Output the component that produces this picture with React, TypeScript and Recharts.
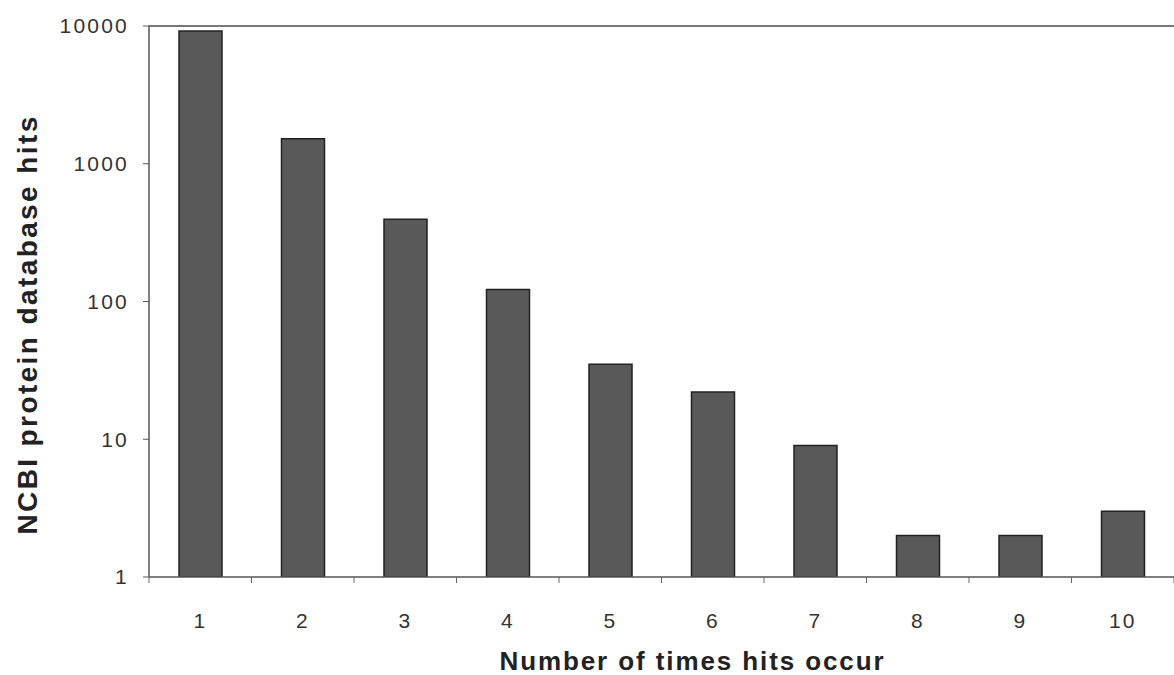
import { BarChart, Bar, XAxis, YAxis, ReferenceLine, Label } from 'recharts';

const occurrences = ['1', '2', '3', '4', '5', '6', '7', '8', '9', '10'];
const hits = [9200, 1520, 395, 122, 35, 22, 9, 2, 2, 3];
const yTicks = [1, 10, 100, 1000, 10000];

const W = 1174;
const H = 675;
const Y_AXIS_W = 149;
const FONT = '"Liberation Sans", Arial, sans-serif';

const rows = occurrences.map((n, i) => ({ n, hits: hits[i] }));
const band = (W - Y_AXIS_W) / occurrences.length;

// category label plus the small divider ticks that sit between the bars
function XTick(props: any) {
  const { x, y, payload, index } = props;
  return (
    <g>
      {index === 0 && <line x1={x - band / 2} x2={x - band / 2} y1={y} y2={y + 6} stroke="#666" />}
      <line x1={x + band / 2} x2={x + band / 2} y1={y} y2={y + 6} stroke="#666" />
      <text x={x} y={y + 51} textAnchor="middle" fontSize={21} letterSpacing={2} fill="#333" fontFamily={FONT}>
        {payload.value}
      </text>
    </g>
  );
}

export default function App() {
  return (
    <div style={{ position: 'fixed', left: 0, top: 0, width: W, height: H, background: '#fff' }}>
      <BarChart width={W} height={H} data={rows} margin={{ top: 26, right: 0, bottom: 0, left: 0 }} barSize={43}>
        <XAxis
          dataKey="n"
          height={98}
          tickLine={false}
          tickSize={0}
          tickMargin={0}
          tick={<XTick />}
          axisLine={{ stroke: '#555', strokeWidth: 1.5 }}
        >
          <Label
            value="Number of times hits occur"
            position="insideBottom"
            offset={5}
            dx={31}
            style={{ fontSize: 26, fontWeight: 'bold', fill: '#222', fontFamily: FONT, letterSpacing: 1.9 }}
          />
        </XAxis>
        <YAxis
          scale="log"
          domain={[1, 10000]}
          ticks={yTicks}
          allowDataOverflow
          width={Y_AXIS_W}
          tickSize={6}
          tickMargin={14}
          tick={{ fontSize: 21, fill: '#333', fontFamily: FONT, letterSpacing: 2.2 }}
          tickLine={{ stroke: '#555' }}
          axisLine={{ stroke: '#555', strokeWidth: 1.5 }}
        >
          <Label
            value="NCBI protein database hits"
            angle={-90}
            position="insideLeft"
            offset={27}
            dy={23}
            style={{ fontSize: 28, fontWeight: 'bold', fill: '#222', fontFamily: FONT, textAnchor: 'middle', letterSpacing: 2.4 }}
          />
        </YAxis>
        <ReferenceLine y={10000} stroke="#777" strokeWidth={2} />
        <Bar dataKey="hits" fill="#595959" stroke="#222" strokeWidth={1.5} isAnimationActive={false} />
      </BarChart>
    </div>
  );
}
